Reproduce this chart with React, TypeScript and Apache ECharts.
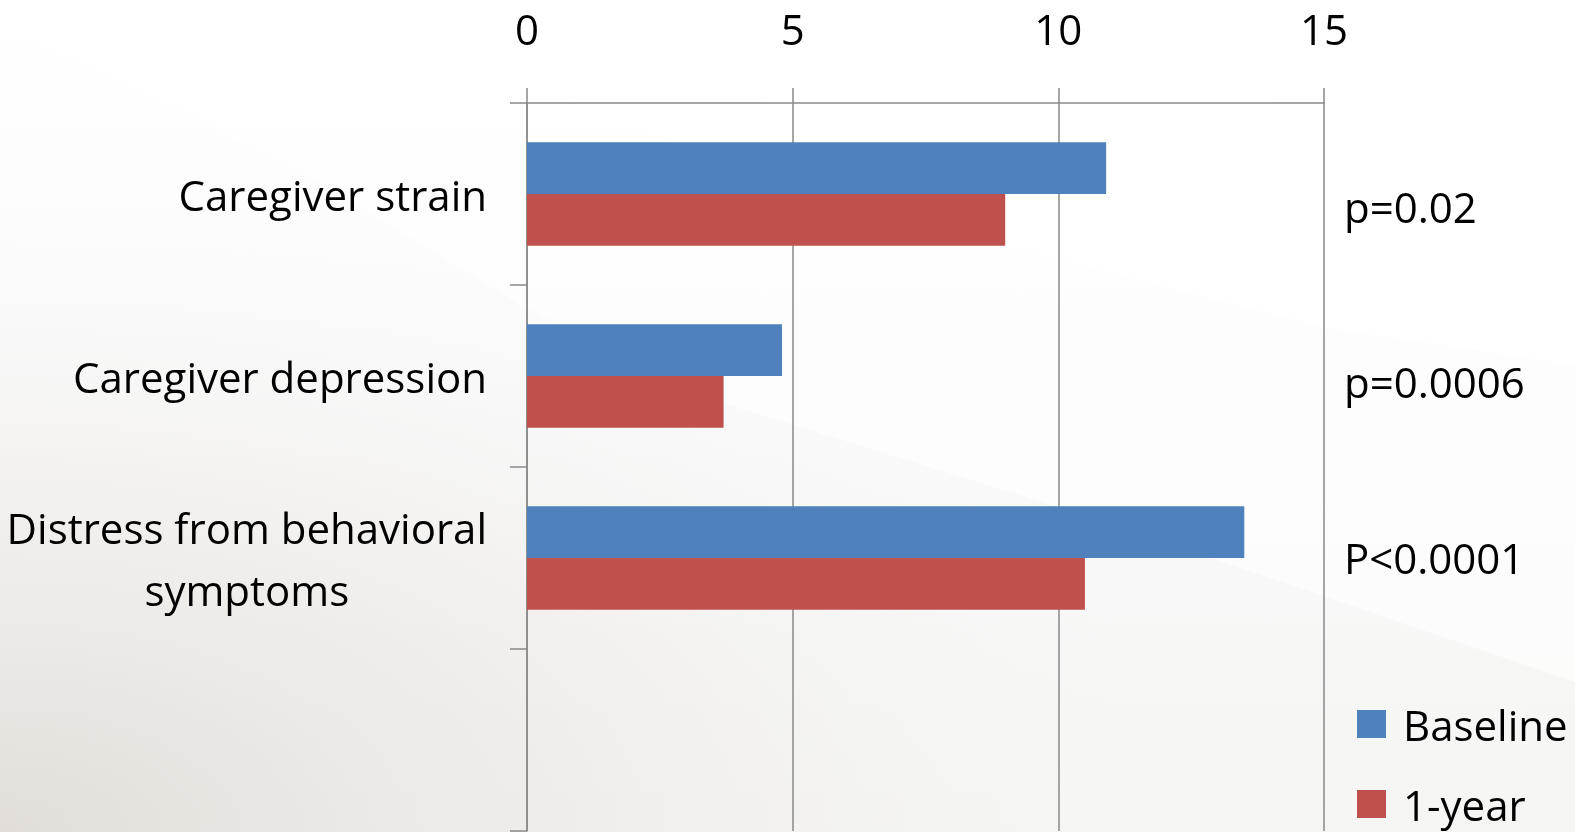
import React, { useEffect, useRef } from 'react';
import * as echarts from 'echarts';

const categories = ['Caregiver strain', 'Caregiver depression', 'Distress from behavioral\nsymptoms', ''];
const baselineValues = [10.9, 4.8, 13.5, null];
const oneYearValues = [9.0, 3.7, 10.5, null];
const pValueLabels = ['p=0.02', 'p=0.0006', 'P<0.0001', ''];
const seriesNames = ['Baseline', '1-year'];
const xMin = 0;
const xMax = 15;
const xInterval = 5;

const W = 1575;
const H = 832;
const FONT = 'Open Sans';
const AXIS_COLOR = '#888888';

export default function App() {
  const ref = useRef<HTMLDivElement>(null);

  useEffect(() => {
    const chart = echarts.init(ref.current!, null, { renderer: 'svg' });
    const lineStyle = { color: AXIS_COLOR, width: 1.5 };
    chart.setOption({
      animation: false,
      backgroundColor: 'transparent',
      graphic: [
        {
          type: 'rect', z: -20, silent: true,
          shape: { x: 0, y: 0, width: W, height: H },
          style: {
            fill: new echarts.graphic.LinearGradient(0, 0, 0, 1, [
              { offset: 0, color: '#ffffff' },
              { offset: 0.4, color: '#fbfbfb' },
              { offset: 1, color: '#f5f5f4' },
            ]),
          },
        },
        {
          type: 'rect', z: -19, silent: true,
          shape: { x: 0, y: 0, width: W, height: H },
          style: {
            fill: new echarts.graphic.RadialGradient(0, 1, 0.75, [
              { offset: 0, color: 'rgba(226,221,216,1)' },
              { offset: 0.5, color: 'rgba(236,233,230,0.6)' },
              { offset: 1, color: 'rgba(245,245,245,0)' },
            ]),
          },
        },
        {
          type: 'polygon', z: -18, silent: true,
          shape: { points: [[0, 0], [0, 21], [300, 170], [525, 308], [719, 402], [1100, 520], [1575, 682], [1575, 0]] },
          style: { fill: 'rgba(255,255,255,0.6)' },
        },
        {
          type: 'polygon', z: -17, silent: true,
          shape: { points: [[320, 0], [700, 150], [1004, 244], [1325, 327], [1575, 365], [1575, 0]] },
          style: { fill: '#ffffff' },
        },
      ],
      grid: { left: 527, right: W - 1324, top: 103, bottom: H - 831, containLabel: false },
      legend: {
        orient: 'vertical',
        left: 1357,
        top: 703,
        padding: 0,
        itemGap: 38,
        itemWidth: 29,
        itemHeight: 28,
        icon: 'rect',
        data: seriesNames,
        textStyle: { fontSize: 42, fontFamily: FONT, color: '#000', lineHeight: 40, padding: [0, 0, 0, 12] },
      },
      xAxis: {
        type: 'value',
        position: 'top',
        min: xMin,
        max: xMax,
        interval: xInterval,
        axisLine: { show: true, lineStyle },
        axisTick: { show: true, length: 15, lineStyle },
        splitLine: { show: true, lineStyle },
        axisLabel: { fontSize: 42, fontFamily: FONT, color: '#000', margin: 54 },
      },
      yAxis: [
        {
          type: 'category',
          inverse: true,
          data: categories,
          axisLine: { show: true, lineStyle },
          axisTick: { show: true, length: 17, lineStyle },
          splitLine: { show: false },
          axisLabel: {
            margin: 40,
            formatter: (v: string) => (v ? v.split('\n').map((l) => `{c|${l}}`).join('\n') : ''),
            rich: {
              c: { fontSize: 42, fontFamily: FONT, color: '#000', align: 'center', lineHeight: 62 },
            },
          },
        },
        {
          type: 'category',
          inverse: true,
          position: 'right',
          data: pValueLabels,
          axisLine: { show: false },
          axisTick: { show: false },
          splitLine: { show: false },
          axisLabel: {
            margin: 20,
            formatter: (v: string, i: number) => (v ? `{p${i}|${v}}` : ''),
            rich: {
              p0: { fontSize: 42, fontFamily: FONT, color: '#000', padding: [24, 0, 0, 0] },
              p1: { fontSize: 42, fontFamily: FONT, color: '#000', padding: [10, 0, 0, 0] },
              p2: { fontSize: 42, fontFamily: FONT, color: '#000', padding: [0, 0, 2, 0] },
            },
          },
        },
      ],
      series: [
        {
          name: seriesNames[0],
          type: 'bar',
          data: baselineValues,
          barGap: '0%',
          barCategoryGap: '43%',
          itemStyle: { color: '#4F81BD' },
        },
        {
          name: seriesNames[1],
          type: 'bar',
          data: oneYearValues,
          barGap: '0%',
          barCategoryGap: '43%',
          itemStyle: { color: '#C0504D' },
        },
      ],
    });
    return () => chart.dispose();
  }, []);

  return <div ref={ref} style={{ position: 'fixed', left: 0, top: 0, width: W, height: H }} />;
}
